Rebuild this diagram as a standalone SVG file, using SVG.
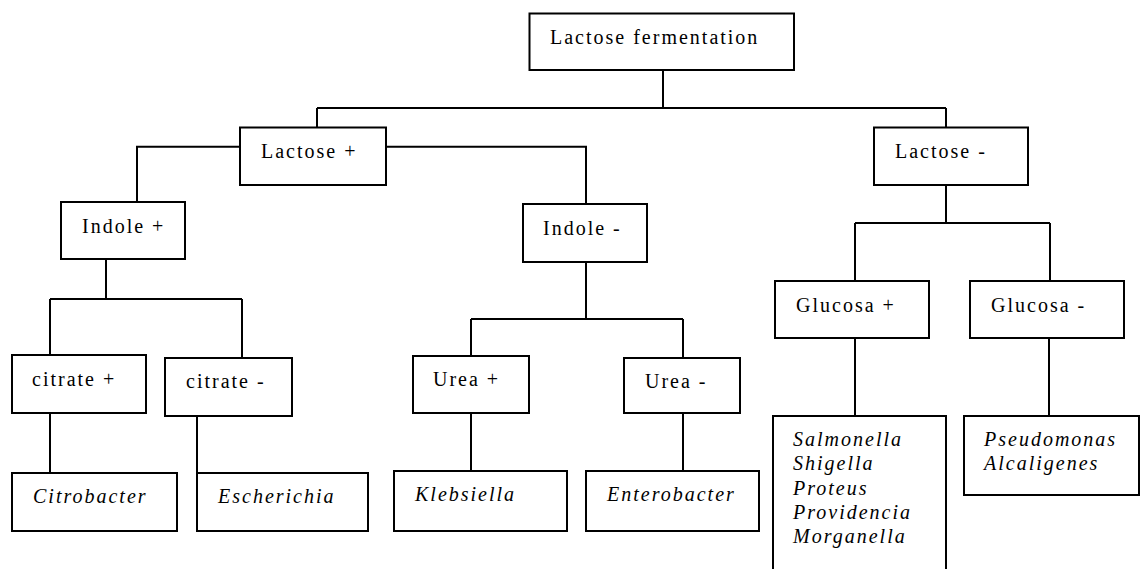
<svg xmlns="http://www.w3.org/2000/svg" width="1140" height="569" viewBox="0 0 1140 569">
<style>
.box{fill:#fff;stroke:#000;stroke-width:2}
.t{font-size:20px;letter-spacing:2px;fill:#000}
.i{font-style:italic}
.c{fill:none;stroke:#000;stroke-width:2}
</style>
<rect width="1140" height="569" fill="#fff"/>
<g id="connectors">
<path class="c" d="M663,70V108M317,108H946M317,108V127.5M946,108V127.5"/>
<path class="c" d="M240,146.7H137V202"/>
<path class="c" d="M386,146.7H586V204"/>
<path class="c" d="M106,259V299M50,299H242M50,299V355M242,299V358"/>
<path class="c" d="M50,413V473M197,416V473"/>
<path class="c" d="M586,262V319M471,319H683M471,319V356M683,319V358"/>
<path class="c" d="M471,413V471M683,413V471"/>
<path class="c" d="M946,185V223M855,223H1050M855,223V281M1050,223V281"/>
<path class="c" d="M855,336V416M1049,338V416"/>
</g>
<g font-family="'Liberation Serif', 'Times New Roman', Times, serif">
<g id="n-root"><rect class="box" x="529.5" y="13.5" width="264.5" height="56.5"/><text class="t" x="550" y="44">Lactose fermentation</text></g>
<g id="n-lacplus"><rect class="box" x="240" y="127.5" width="146" height="57.5"/><text class="t" x="261" y="158">Lactose +</text></g>
<g id="n-lacminus"><rect class="box" x="874" y="127.5" width="154" height="57.5"/><text class="t" x="895" y="158">Lactose -</text></g>
<g id="n-indplus"><rect class="box" x="61" y="202" width="124" height="57"/><text class="t" x="82" y="233">Indole +</text></g>
<g id="n-indminus"><rect class="box" x="523" y="204" width="124" height="58"/><text class="t" x="543" y="235">Indole -</text></g>
<g id="n-citplus"><rect class="box" x="12" y="355" width="134" height="58"/><text class="t" x="32" y="386">citrate +</text></g>
<g id="n-citminus"><rect class="box" x="165" y="358" width="127" height="58"/><text class="t" x="186" y="388">citrate -</text></g>
<g id="n-ureaplus"><rect class="box" x="413" y="356" width="116" height="57"/><text class="t" x="433" y="386">Urea +</text></g>
<g id="n-ureaminus"><rect class="box" x="624" y="358" width="116" height="55"/><text class="t" x="645" y="388">Urea -</text></g>
<g id="n-glucplus"><rect class="box" x="775" y="281" width="154" height="57"/><text class="t" x="796" y="312">Glucosa +</text></g>
<g id="n-glucminus"><rect class="box" x="970" y="281" width="154" height="57"/><text class="t" x="991" y="312">Glucosa -</text></g>
<g id="n-citrobacter"><rect class="box" x="12" y="473" width="165" height="58"/><text class="t i" x="33" y="503">Citrobacter</text></g>
<g id="n-escherichia"><rect class="box" x="197" y="473" width="171" height="58"/><text class="t i" x="218" y="503">Escherichia</text></g>
<g id="n-klebsiella"><rect class="box" x="394" y="471" width="173" height="60"/><text class="t i" x="415" y="501">Klebsiella</text></g>
<g id="n-enterobacter"><rect class="box" x="586" y="471" width="173" height="60"/><text class="t i" x="607" y="501">Enterobacter</text></g>
<g id="n-glucplus-genera"><rect class="box" x="773" y="416" width="173" height="164"/>
<text class="t i" x="793" y="446">Salmonella</text>
<text class="t i" x="793" y="470">Shigella</text>
<text class="t i" x="793" y="495">Proteus</text>
<text class="t i" x="793" y="519">Providencia</text>
<text class="t i" x="793" y="543">Morganella</text></g>
<g id="n-glucminus-genera"><rect class="box" x="964" y="416" width="175" height="79"/>
<text class="t i" x="984" y="446">Pseudomonas</text>
<text class="t i" x="984" y="470">Alcaligenes</text></g>
</g>
</svg>
